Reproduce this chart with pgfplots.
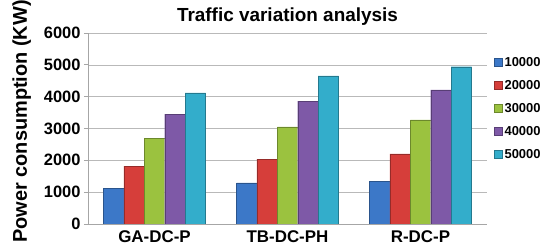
\documentclass[border=0pt]{standalone}
\usepackage{pgfplots}
\pgfplotsset{compat=1.18}
\usepackage{fontspec}
\setmainfont{Liberation Sans}
\definecolor{cA}{HTML}{3C78C8}
\definecolor{cB}{HTML}{D63E3A}
\definecolor{cC}{HTML}{9BC23F}
\definecolor{cD}{HTML}{7E59A7}
\definecolor{cE}{HTML}{33ADCB}
\pgfplotstableread{
x A B C D E
0 1130 1820 2700 3450 4120
1 1290 2040 3050 3860 4650
2 1350 2200 3270 4210 4940
}\datatable
\begin{document}
\begin{tikzpicture}
\useasboundingbox (0,0) rectangle (540bp,246bp);
\clip (0,0) rectangle (540bp,246bp);
\begin{axis}[
  at={(88bp,22bp)}, anchor=south west,
  scale only axis, width=399bp, height=191bp,
  xmin=-0.5, xmax=2.5, ymin=0, ymax=6000,
  ybar=0pt, bar width=20.4bp,
  xtick={0,1,2}, xticklabels={GA-DC-P,TB-DC-PH,R-DC-P},
  ytick={0,1000,...,6000},
  scaled y ticks=false,
  /pgf/number format/1000 sep={},
  /pgf/number format/assume math mode=true,
  axis x line*=bottom, axis y line*=left,
  axis line style={draw=gray!70, line width=0.8pt},
  ymajorgrids, grid style={gray!55, line width=0.6pt},
  x tick style={draw=none},
  y tick style={draw=gray!70, line width=0.8pt},
  tick align=outside, major tick length=4bp,
  y tick label style={font=\bfseries\fontsize{16.5}{16.5}\selectfont},
  x tick label style={font=\bfseries\fontsize{17}{17}\selectfont, yshift=1bp},
  title={Traffic variation analysis},
  title style={font=\bfseries\fontsize{19}{19}\selectfont, at={(0.5,1)}, anchor=base, yshift=6bp},
  ylabel={Power consumption (KW)},
  ylabel style={font=\bfseries\fontsize{20}{20}\selectfont, at={(axis description cs:-0.153,0.537)}, anchor=base, rotate=0},
  legend style={at={(1,1)}, anchor=north west, xshift=7bp, yshift=-22bp, draw=none, fill=none,
    font=\bfseries\fontsize{13}{13}\selectfont, row sep=8.5bp, inner sep=0pt},
  legend cell align=left,
  legend image code/.code={\fill[#1] (0bp,-4bp) rectangle (8bp,4bp);},
]
\addplot[fill=cA, draw=cA!70!black] table[x=x,y=A]{\datatable};
\addplot[fill=cB, draw=cB!70!black] table[x=x,y=B]{\datatable};
\addplot[fill=cC, draw=cC!70!black] table[x=x,y=C]{\datatable};
\addplot[fill=cD, draw=cD!70!black] table[x=x,y=D]{\datatable};
\addplot[fill=cE, draw=cE!70!black] table[x=x,y=E]{\datatable};
\legend{10000,20000,30000,40000,50000}
\end{axis}
\end{tikzpicture}
\end{document}
